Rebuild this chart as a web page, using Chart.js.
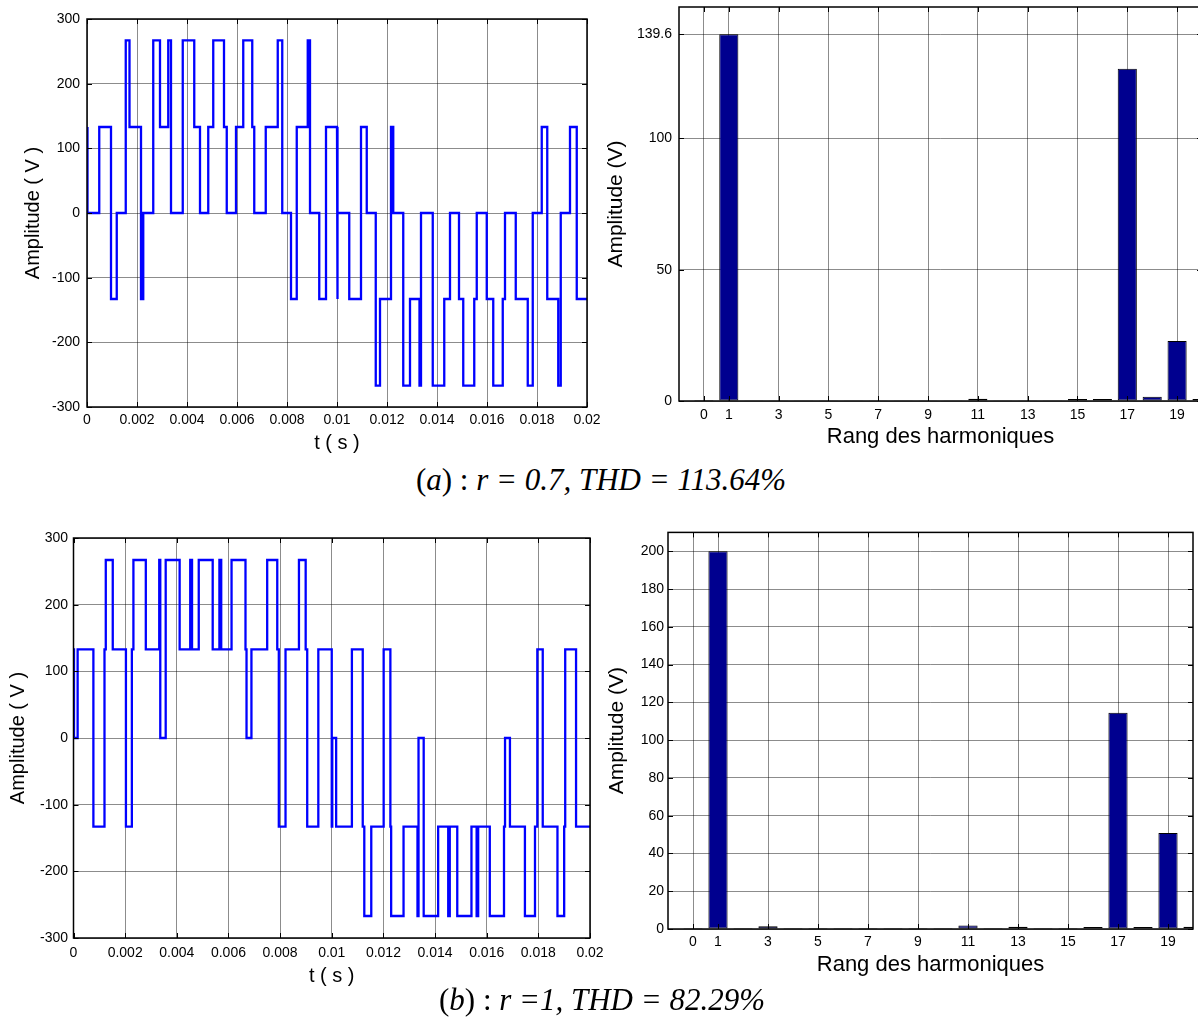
<!DOCTYPE html>
<html>
<head>
<meta charset="utf-8">
<script src="https://cdn.jsdelivr.net/npm/chart.js@4.4.0/dist/chart.umd.min.js"></script>
<style>
html, body { margin: 0; padding: 0; background: #fff; overflow: hidden; width: 1198px; height: 1018px; }
.box { position: absolute; }
.caption {
    position: absolute;
    font-family: 'Liberation Serif', 'Times New Roman', serif;
    font-size: 31px;
    line-height: 31px;
    white-space: nowrap;
    transform: translateX(-50%);
}
</style>
</head>
<body>
<div class="box" style="left:0;top:0"><canvas id="waveA" width="612" height="460"></canvas></div>
<div class="box" style="left:590px;top:-13px"><canvas id="specA" width="640" height="473"></canvas></div>
<div class="box" style="left:0;top:520px"><canvas id="waveB" width="615" height="470"></canvas></div>
<div class="box" style="left:590px;top:520px"><canvas id="specB" width="620" height="460"></canvas></div>
<div class="caption" style="left:601px;top:464px">(<i>a</i>) : <i>r = 0.7, THD = 113.64%</i></div>
<div class="caption" style="left:602px;top:984px">(<i>b</i>) : <i>r =1, THD = 82.29%</i></div>
<script>
// time axis (s)
const tEnd = 0.02;
const timeTicks = [0, 0.002, 0.004, 0.006, 0.008, 0.01, 0.012, 0.014, 0.016, 0.018, 0.02];
const timeTickLabels = ['0', '0.002', '0.004', '0.006', '0.008', '0.01', '0.012', '0.014', '0.016', '0.018', '0.02'];
const voltTicks = [-300, -200, -100, 0, 100, 200, 300];

// (a) r = 0.7 : switching instants (s) and the level reached at each one (V)
const switchA = [
    0, 0.00002, 0.00049, 0.00096, 0.00119, 0.00155, 0.00170, 0.00216, 0.00225, 0.00265,
    0.00292, 0.00325, 0.00336, 0.00383, 0.00429, 0.00452, 0.00485, 0.00505, 0.00548, 0.00559,
    0.00596, 0.00625, 0.00661, 0.00669, 0.00715, 0.00763, 0.00781, 0.00816, 0.00839, 0.00883,
    0.00892, 0.00929, 0.00956, 0.01000, 0.01003, 0.01049, 0.01096, 0.01119, 0.01155, 0.01172,
    0.01216, 0.01225, 0.01265, 0.01292, 0.01330, 0.01336, 0.01383, 0.01429, 0.01452, 0.01488,
    0.01505, 0.01549, 0.01559, 0.01599, 0.01625, 0.01663, 0.01672, 0.01715, 0.01763, 0.01783,
    0.01819, 0.01841, 0.01885, 0.01895, 0.01932, 0.01959
];
const levelA = [
    133, 0, 133, -133, 0, 267, 133, -133, 0, 267,
    133, 267, 0, 267, 133, 0, 133, 267, 133, 0,
    133, 267, 133, 0, 133, 267, 0, -133, 133, 267,
    0, -133, 133, -133, 0, -133, 133, 0, -267, -133,
    133, 0, -267, -133, -267, 0, -267, -133, 0, -133,
    -267, -133, 0, -133, -267, -133, 0, -133, -267, 0,
    133, -133, -267, 0, 133, -133
];

// (b) r = 1
const switchB = [
    0, 0.00002, 0.00016, 0.00077, 0.00120, 0.00125, 0.00152, 0.00203, 0.00226, 0.00232,
    0.00280, 0.00332, 0.00336, 0.00357, 0.00411, 0.00452, 0.00459, 0.00485, 0.00539, 0.00565,
    0.00572, 0.00612, 0.00666, 0.00670, 0.00689, 0.00750, 0.00789, 0.00795, 0.00821, 0.00873,
    0.00899, 0.00905, 0.00948, 0.01000, 0.01002, 0.01017, 0.01078, 0.01120, 0.01126, 0.01153,
    0.01201, 0.01227, 0.01230, 0.01278, 0.01332, 0.01336, 0.01356, 0.01412, 0.01451, 0.01457,
    0.01486, 0.01541, 0.01561, 0.01567, 0.01612, 0.01667, 0.01671, 0.01690, 0.01748, 0.01787,
    0.01796, 0.01817, 0.01874, 0.01900, 0.01904, 0.01946
];
const levelB = [
    133, 0, 133, -133, 133, 267, 133, -133, 133, 267,
    133, 267, 0, 267, 133, 267, 133, 267, 133, 267,
    133, 267, 133, 0, 133, 267, 133, -133, 133, 267,
    133, -133, 133, -133, 0, -133, 133, -133, -267, -133,
    133, -133, -267, -133, -267, 0, -267, -133, -267, -133,
    -267, -133, -267, -133, -267, -133, 0, -133, -267, -133,
    133, -133, -267, -133, 133, -133
];

// harmonic spectra
const harmonics = [0, 1, 2, 3, 4, 5, 6, 7, 8, 9, 10, 11, 12, 13, 14, 15, 16, 17, 18, 19, 20];
const harmTicks = [0, 1, 3, 5, 7, 9, 11, 13, 15, 17, 19];
const ampA = [0.35, 139.6, 0.3, 0.3, 0.3, 0.3, 0.3, 0.3, 0.3, 0.3, 0.3, 0.9, 0.3, 0.3, 0.3, 0.8, 0.8, 126.5, 1.6, 22.8, 0.8];
const ampB = [0.5, 200, 0.5, 1.4, 0.5, 0.5, 0.5, 0.5, 0.5, 0.5, 0.5, 1.8, 0.5, 1.2, 0.5, 0.5, 1.1, 114.5, 1.1, 50.8, 1.2];
const ampTicksA = [0, 50, 100, 139.6];
const ampTicksB = [0, 20, 40, 60, 80, 100, 120, 140, 160, 180, 200];

Chart.defaults.font.family = "'Liberation Sans', Arial, sans-serif";
Chart.defaults.font.size = 14;
Chart.defaults.color = '#000';

const gridColor = 'rgba(0,0,0,0.45)';

// MATLAB-like box with small inward ticks on all four sides
const framePlugin = {
    id: 'frame',
    afterDatasetsDraw(chart) {
        const { ctx, chartArea: a, scales: { x, y } } = chart;
        ctx.save();
        ctx.strokeStyle = '#000';
        ctx.lineWidth = 1;
        ctx.beginPath();
        x.ticks.forEach(t => {
            const px = Math.round(x.getPixelForValue(t.value)) + 0.5;
            ctx.moveTo(px, a.bottom); ctx.lineTo(px, a.bottom - 5);
            ctx.moveTo(px, a.top); ctx.lineTo(px, a.top + 5);
        });
        y.ticks.forEach(t => {
            const py = Math.round(y.getPixelForValue(t.value)) + 0.5;
            ctx.moveTo(a.left, py); ctx.lineTo(a.left + 5, py);
            ctx.moveTo(a.right, py); ctx.lineTo(a.right - 5, py);
        });
        ctx.stroke();
        ctx.lineWidth = 1.5;
        ctx.strokeRect(a.left, a.top, a.right - a.left, a.bottom - a.top);
        ctx.restore();
    }
};

function axis(o) {
    return {
        type: 'linear',
        min: o.min,
        max: o.max,
        offset: false,
        afterBuildTicks: s => { s.ticks = o.ticks.map(v => ({ value: v })); },
        afterFit: s => { if (s.isHorizontal()) s.height = o.size; else s.width = o.size; },
        grid: { color: gridColor, lineWidth: 1, drawTicks: false, offset: false },
        border: { display: false },
        ticks: {
            autoSkip: false, maxRotation: 0, minRotation: 0,
            padding: o.tickPad,
            callback: (v, i) => o.labels ? o.labels[i] : String(v)
        },
        title: {
            display: true, text: o.title,
            font: { size: o.titleSize },
            padding: o.titlePad
        }
    };
}

function waveChart(id, times, levels, cfg) {
    // corner points of the staircase, taken from switching instants and levels
    const pts = [];
    for (let i = 0; i < times.length; i++) {
        if (i > 0) pts.push({ x: times[i], y: levels[i - 1] });
        pts.push({ x: times[i], y: levels[i] });
    }
    pts.push({ x: tEnd, y: levels[levels.length - 1] });

    new Chart(document.getElementById(id), {
        type: 'line',
        data: { datasets: [{ data: pts, borderColor: '#0000ff', borderWidth: 2.3, pointRadius: 0, tension: 0, fill: false }] },
        options: {
            responsive: false,
            animation: false,
            layout: { padding: cfg.pad },
            plugins: { legend: { display: false }, tooltip: { enabled: false } },
            scales: {
                x: axis({ min: 0, max: tEnd, ticks: timeTicks, labels: timeTickLabels, size: cfg.xSize,
                          tickPad: cfg.xTickPad, title: 't ( s )', titleSize: 20, titlePad: { top: 0, bottom: cfg.xTitlePad } }),
                y: axis({ min: -300, max: 300, ticks: voltTicks, size: cfg.ySize,
                          tickPad: cfg.yTickPad, title: 'Amplitude ( V )', titleSize: 20, titlePad: { top: cfg.yTitlePad, bottom: 0 } })
            }
        },
        plugins: [framePlugin]
    });
}

function specChart(id, amps, yMax, yTicks, cfg) {
    new Chart(document.getElementById(id), {
        type: 'bar',
        data: {
            datasets: [{
                data: harmonics.map((h, i) => ({ x: h, y: amps[i] })),
                backgroundColor: '#00008f',
                borderColor: '#000',
                borderWidth: 1,
                borderSkipped: false,
                barPercentage: 0.96,
                categoryPercentage: 0.8
            }]
        },
        options: {
            responsive: false,
            animation: false,
            layout: { padding: cfg.pad },
            plugins: { legend: { display: false }, tooltip: { enabled: false } },
            scales: {
                x: axis({ min: -1, max: 20, ticks: harmTicks, size: cfg.xSize,
                          tickPad: cfg.xTickPad, title: 'Rang des harmoniques', titleSize: 22, titlePad: { top: 0, bottom: cfg.xTitlePad } }),
                y: axis({ min: 0, max: yMax, ticks: yTicks, size: cfg.ySize,
                          tickPad: cfg.yTickPad, title: 'Amplitude (V)', titleSize: 21, titlePad: { top: cfg.yTitlePad, bottom: 0 } })
            }
        },
        plugins: [framePlugin]
    });
}

waveChart('waveA', switchA, levelA, {
    pad: { top: 19, right: 25, left: 0, bottom: 0 },
    xSize: 53, ySize: 87, xTickPad: 5, yTickPad: 7, xTitlePad: 5, yTitlePad: 21
});
waveChart('waveB', switchB, levelB, {
    pad: { top: 18, right: 25, left: 0, bottom: 0 },
    xSize: 52, ySize: 73.5, xTickPad: 6.5, yTickPad: 5.5, xTitlePad: 2, yTitlePad: 6
});
specChart('specA', ampA, 150, ampTicksA, {
    pad: { top: 20, right: 28, left: 0, bottom: 0 },
    xSize: 59, ySize: 89, xTickPad: 5.5, yTickPad: 7, xTitlePad: 10, yTitlePad: 14
});
specChart('specB', ampB, 210, ampTicksB, {
    pad: { top: 12.3, right: 17, left: 0, bottom: 0 },
    xSize: 51, ySize: 78, xTickPad: 5, yTickPad: 4, xTitlePad: 2, yTitlePad: 15
});
</script>
</body>
</html>
